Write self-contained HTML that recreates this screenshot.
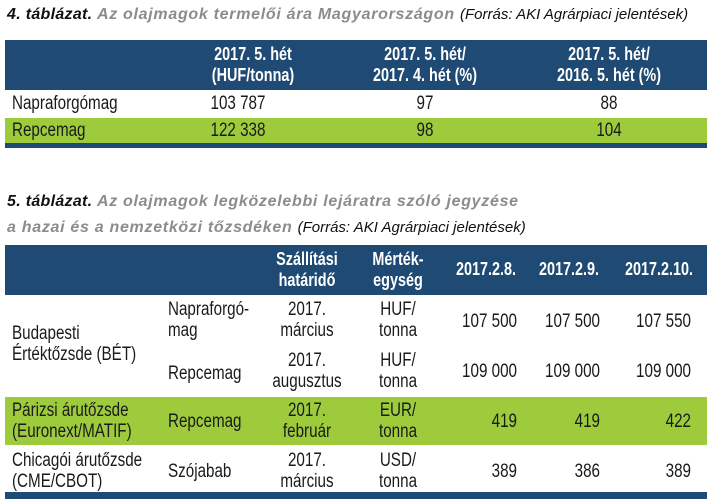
<!DOCTYPE html>
<html><head><meta charset="utf-8"><style>
body{margin:0;width:707px;height:499px;background:#fff;position:relative;overflow:hidden;font-family:"Liberation Sans",sans-serif;color:#1a1a1a}
.a{position:absolute;white-space:nowrap}
.t{font-family:"Liberation Sans",sans-serif;font-size:16px;font-style:italic;font-weight:bold;color:#8c8c8c;letter-spacing:0.7px}
.t b{color:#111;letter-spacing:0.3px}
.t span{font-weight:normal;color:#111;font-size:15px;letter-spacing:0}
.bar{position:absolute;left:5px;right:0;background:#1f4a73}
.g{position:absolute;left:5px;right:0;background:#9ecb3c}
.h{color:#fff;font-weight:bold;font-size:18px;text-align:center;line-height:21px;transform:translateX(-50%) scaleX(.8)}
.c{font-size:19px;line-height:21px;transform:scaleX(.8);transform-origin:0 0}
.c.m{transform:translateX(-50%) scaleX(.8);transform-origin:50% 0;text-align:center}
.c.r{transform:translateX(-100%) scaleX(.8);transform-origin:100% 0;text-align:right}
</style></head><body>
<div class="a t" style="left:7px;top:6px"><b>4. táblázat.</b> Az olajmagok termelői ára Magyarországon <span>(Forrás: AKI Agrárpiaci jelentések)</span></div>
<div class="bar" style="top:40px;height:50px"></div>
<div class="a h" style="left:253px;top:44px">2017. 5. hét<br>(HUF/tonna)</div>
<div class="a h" style="left:425px;top:44px">2017. 5. hét/<br>2017. 4. hét (%)</div>
<div class="a h" style="left:609px;top:44px">2017. 5. hét/<br>2016. 5. hét (%)</div>
<div class="g" style="top:118px;height:26px"></div>
<div class="bar" style="top:143px;height:5px"></div>
<div class="a c" style="left:12px;top:93px">Napraforgómag</div>
<div class="a c m" style="left:238px;top:93px">103 787</div>
<div class="a c m" style="left:425px;top:93px">97</div>
<div class="a c m" style="left:609px;top:93px">88</div>
<div class="a c" style="left:12px;top:120px">Repcemag</div>
<div class="a c m" style="left:238px;top:120px">122 338</div>
<div class="a c m" style="left:425px;top:120px">98</div>
<div class="a c m" style="left:609px;top:120px">104</div>

<div class="a t" style="left:7px;top:193px"><b>5. táblázat.</b> Az olajmagok legközelebbi lejáratra szóló jegyzése</div>
<div class="a t" style="left:7px;top:219px">a hazai és a nemzetközi tőzsdéken <span>(Forrás: AKI Agrárpiaci jelentések)</span></div>
<div class="bar" style="top:245px;height:50px"></div>
<div class="a h" style="left:307px;top:249px">Szállítási<br>határidő</div>
<div class="a h" style="left:398px;top:249px">Mérték-<br>egység</div>
<div class="a h" style="left:486px;top:259px">2017.2.8.</div>
<div class="a h" style="left:569px;top:259px">2017.2.9.</div>
<div class="a h" style="left:659px;top:259px">2017.2.10.</div>
<div class="g" style="top:397px;height:48px"></div>
<div class="bar" style="top:492px;height:7px"></div>

<div class="a c" style="left:12px;top:323px">Budapesti<br>Értéktőzsde (BÉT)</div>
<div class="a c" style="left:168px;top:299px">Napraforgó-<br>mag</div>
<div class="a c m" style="left:307px;top:299px">2017.<br>március</div>
<div class="a c m" style="left:398px;top:299px">HUF/<br>tonna</div>
<div class="a c r" style="left:517px;top:311px">107 500</div>
<div class="a c r" style="left:600px;top:311px">107 500</div>
<div class="a c r" style="left:691px;top:311px">107 550</div>
<div class="a c" style="left:168px;top:363px">Repcemag</div>
<div class="a c m" style="left:307px;top:350px">2017.<br>augusztus</div>
<div class="a c m" style="left:398px;top:350px">HUF/<br>tonna</div>
<div class="a c r" style="left:517px;top:361px">109 000</div>
<div class="a c r" style="left:600px;top:361px">109 000</div>
<div class="a c r" style="left:691px;top:361px">109 000</div>

<div class="a c" style="left:12px;top:400px">Párizsi árutőzsde<br>(Euronext/MATIF)</div>
<div class="a c" style="left:168px;top:411px">Repcemag</div>
<div class="a c m" style="left:307px;top:400px">2017.<br>február</div>
<div class="a c m" style="left:398px;top:400px">EUR/<br>tonna</div>
<div class="a c r" style="left:517px;top:411px">419</div>
<div class="a c r" style="left:600px;top:411px">419</div>
<div class="a c r" style="left:691px;top:411px">422</div>

<div class="a c" style="left:12px;top:450px">Chicagói árutőzsde<br>(CME/CBOT)</div>
<div class="a c" style="left:168px;top:461px">Szójabab</div>
<div class="a c m" style="left:307px;top:450px">2017.<br>március</div>
<div class="a c m" style="left:398px;top:450px">USD/<br>tonna</div>
<div class="a c r" style="left:517px;top:461px">389</div>
<div class="a c r" style="left:600px;top:461px">386</div>
<div class="a c r" style="left:691px;top:461px">389</div>
</body></html>
